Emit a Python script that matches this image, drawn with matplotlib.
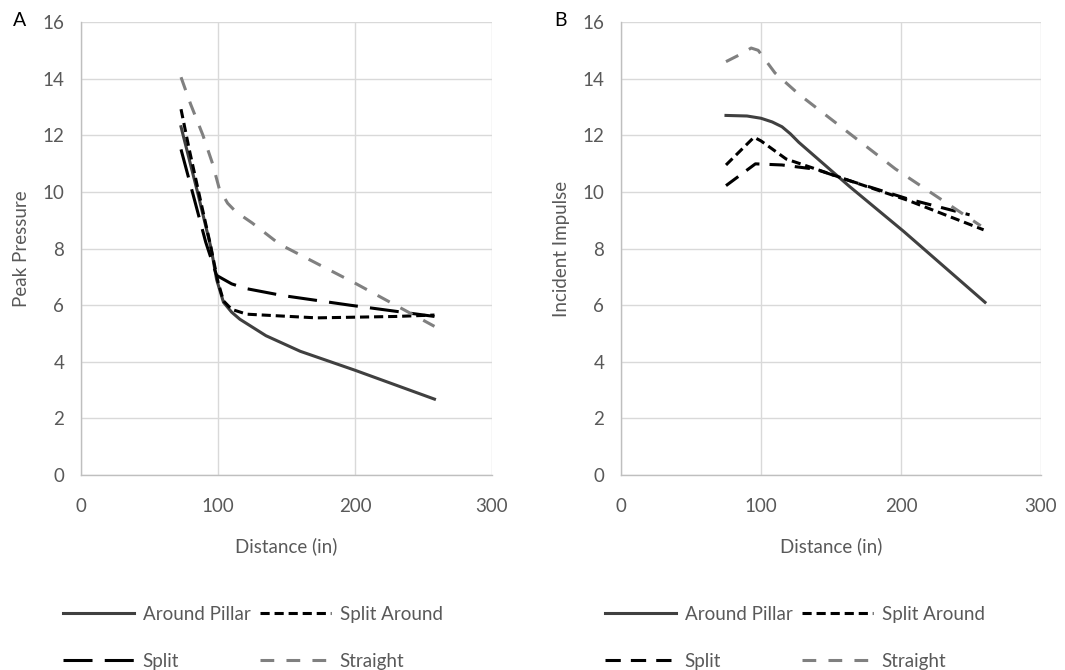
import matplotlib.pyplot as plt
import numpy as np

plt.rcParams['font.family'] = ['Lato', 'DejaVu Sans']

# ---- panel A : peak pressure ----
a_pillar_x = [73, 85, 95, 99, 104, 110, 116, 135, 160, 200, 258]
a_pillar_y = [12.3, 10.0, 8.0, 6.9, 6.1, 5.75, 5.5, 4.92, 4.37, 3.7, 2.68]

a_splitar_x = [73, 79, 87, 94, 100, 104, 110, 121, 172, 230, 258]
a_splitar_y = [12.92, 11.5, 9.75, 8.23, 6.82, 6.15, 5.85, 5.68, 5.55, 5.6, 5.65]

a_split_x = [73, 82, 91, 99, 103, 110, 121, 147, 196, 258]
a_split_y = [11.5, 9.87, 8.23, 7.05, 6.94, 6.75, 6.58, 6.34, 6.0, 5.6]

a_straight_x = [73, 80, 89, 96, 101, 107, 113, 125, 145, 175, 201, 258]
a_straight_y = [14.05, 13.1, 12.0, 11.0, 10.1, 9.6, 9.3, 8.9, 8.15, 7.4, 6.75, 5.25]

# ---- panel B : incident impulse ----
b_pillar_x = [75, 90, 100, 108, 115, 121, 127, 163, 202, 260]
b_pillar_y = [12.7, 12.68, 12.6, 12.47, 12.3, 12.05, 11.75, 10.2, 8.6, 6.1]

b_splitar_x = [75, 95, 100, 118, 139, 163, 205, 259]
b_splitar_y = [10.95, 11.93, 11.8, 11.16, 10.81, 10.4, 9.7, 8.66]

b_split_x = [75, 96, 115, 139, 163, 205, 249]
b_split_y = [10.22, 10.99, 10.95, 10.8, 10.4, 9.75, 9.19]

b_straight_x = [75, 85, 93, 98, 104, 110, 127, 196, 257]
b_straight_y = [14.6, 14.85, 15.08, 15.0, 14.6, 14.2, 13.45, 10.81, 8.8]

xticks = [0, 100, 200, 300]
yticks = [0, 2, 4, 6, 8, 10, 12, 14, 16]

txt = '#595959'
grid = '#d9d9d9'
fs = 13.5

fig = plt.figure(figsize=(10.65, 6.7), dpi=100)
axA = fig.add_axes([81/1065, 1-475/670, 411/1065, 453/670])
axB = fig.add_axes([621/1065, 1-475/670, 420/1065, 453/670])


def style(ax, ylabel):
    ax.set_xlim(0, 300)
    ax.set_ylim(0, 16)
    ax.set_xticks(xticks)
    ax.set_yticks(yticks)
    ax.grid(True, color=grid, lw=1)
    ax.set_axisbelow(True)
    for s in ['top', 'right']:
        ax.spines[s].set_visible(False)
    for s in ['left', 'bottom']:
        ax.spines[s].set_color('#bfbfbf')
        ax.spines[s].set_linewidth(1)
    ax.tick_params(length=0, colors=txt, labelsize=fs)
    ax.tick_params(axis='x', pad=16.5)
    ax.tick_params(axis='y', pad=12)
    ax.set_xlabel('Distance (in)', color=txt, fontsize=fs, labelpad=16)
    ax.set_ylabel(ylabel, color=txt, fontsize=fs, labelpad=9)


lw = 2.2
axA.plot(a_pillar_x, a_pillar_y, color='#404040', lw=lw, label='Around Pillar')
axA.plot(a_split_x, a_split_y, color='black', lw=lw, dashes=(9.5, 4), label='Split')
axA.plot(a_splitar_x, a_splitar_y, color='black', lw=lw, dashes=(3, 1.6), label='Split Around')
axA.plot(a_straight_x, a_straight_y, color='#808080', lw=lw, dashes=(4.5, 4), label='Straight')
style(axA, 'Peak Pressure')

axB.plot(b_pillar_x, b_pillar_y, color='#404040', lw=lw, label='Around Pillar')
axB.plot(b_split_x, b_split_y, color='black', lw=lw, dashes=(5, 3.3), label='Split')
axB.plot(b_splitar_x, b_splitar_y, color='black', lw=lw, dashes=(3, 1.6), label='Split Around')
axB.plot(b_straight_x, b_straight_y, color='#808080', lw=lw, dashes=(4.5, 4), label='Straight')
style(axB, 'Incident Impulse')

for ax, x0 in [(axA, 63), (axB, 605)]:
    ax.legend(loc='upper left', bbox_to_anchor=(x0/1065, 1-606/670),
              bbox_transform=fig.transFigure, ncol=2, frameon=False,
              fontsize=fs, labelcolor=txt, handlelength=3.8, handletextpad=0.45,
              columnspacing=0.5, labelspacing=1.58, borderpad=0, borderaxespad=0)

fig.text(13/1065, 1-20/670, 'A', fontsize=14, va='center', ha='left')
fig.text(554/1065, 1-20/670, 'B', fontsize=14, va='center', ha='left')

fig.savefig('out.png', dpi=100)
